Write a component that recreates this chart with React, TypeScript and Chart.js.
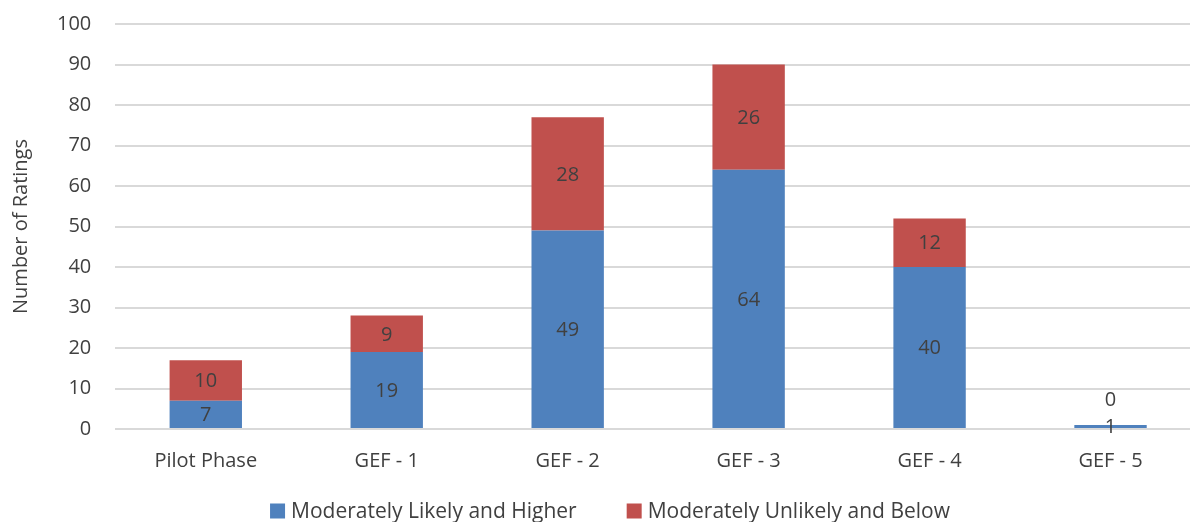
import React, { useEffect, useRef } from "react";
import { Chart, registerables } from "chart.js";

Chart.register(...registerables);

const categories = ["Pilot Phase", "GEF - 1", "GEF - 2", "GEF - 3", "GEF - 4", "GEF - 5"];
const likelyHigher = [7, 19, 49, 64, 40, 1];
const unlikelyBelow = [10, 9, 28, 26, 12, 0];
const seriesNames = ["Moderately Likely and Higher", "Moderately Unlikely and Below"];
const seriesColors = ["#4F81BD", "#C0504D"];
const yTicksMax = 100;
const yTicksStep = 10;

const FONT = "'Open Sans', 'Noto Sans', sans-serif";
const FS = 20;

const labelPlugin = {
  id: "segLabels",
  afterDatasetsDraw(chart: any) {
    const ctx = chart.ctx;
    ctx.save();
    ctx.font = `${FS}px ${FONT}`;
    ctx.fillStyle = "#404040";
    ctx.textAlign = "center";
    ctx.textBaseline = "middle";
    chart.data.datasets.forEach((ds: any, di: number) => {
      const meta = chart.getDatasetMeta(di);
      meta.data.forEach((el: any, i: number) => {
        const v = ds.data[i];
        let y = (el.y + el.base) / 2;
        if (v === 0) y = el.y - 26;
        ctx.fillText(String(v), el.x, y + 1);
      });
    });
    ctx.restore();
  },
};

const legendPlugin = {
  id: "bottomLegend",
  afterDraw(chart: any) {
    const ctx = chart.ctx;
    ctx.save();
    ctx.font = `21px ${FONT}`;
    ctx.textBaseline = "middle";
    ctx.textAlign = "left";
    const box = 15;
    const gapText = 6;
    const gapItems = 50;
    const names = chart.data.datasets.map((d: any) => d.label);
    const widths = names.map((n: string) => box + gapText + ctx.measureText(n).width);
    const total = widths.reduce((a: number, b: number) => a + b, 0) + gapItems * (names.length - 1);
    const cx = 610;
    const cy = 511;
    let x = cx - total / 2;
    names.forEach((n: string, i: number) => {
      ctx.fillStyle = chart.data.datasets[i].backgroundColor;
      ctx.fillRect(x, cy - box / 2, box, box);
      ctx.fillStyle = "#404040";
      ctx.fillText(n, x + box + gapText, cy + 1);
      x += widths[i] + gapItems;
    });
    ctx.restore();
  },
};

export default function App() {
  const ref = useRef<HTMLCanvasElement>(null);
  useEffect(() => {
    document.body.style.margin = "0";
    const chart = new Chart(ref.current!, {
      type: "bar",
      data: {
        labels: categories,
        datasets: [
          {
            label: seriesNames[0],
            data: likelyHigher,
            backgroundColor: seriesColors[0],
            barPercentage: 0.8,
            categoryPercentage: 0.5,
          },
          {
            label: seriesNames[1],
            data: unlikelyBelow,
            backgroundColor: seriesColors[1],
            barPercentage: 0.8,
            categoryPercentage: 0.5,
          },
        ],
      },
      options: {
        animation: false,
        responsive: false,
        maintainAspectRatio: false,
        layout: { padding: { top: 0, right: 0, left: 9, bottom: 37 } },
        plugins: {
          tooltip: { enabled: false },
          legend: { display: false },
        },
        scales: {
          x: {
            stacked: true,
            grid: { display: false },
            border: { display: false },
            ticks: { font: { family: FONT, size: FS }, color: "#404040", padding: 12 },
          },
          y: {
            stacked: true,
            min: 0,
            max: yTicksMax,
            ticks: {
              stepSize: yTicksStep,
              font: { family: FONT, size: FS },
              color: "#404040",
              padding: 12,
            },
            grid: {
              color: "#D9D9D9",
              lineWidth: 2,
              drawTicks: true,
              tickLength: 12,
              tickColor: "rgba(0,0,0,0)",
            },
            border: { display: false },
            title: {
              display: true,
              text: "Number of Ratings",
              font: { family: FONT, size: FS },
              color: "#404040",
              padding: { top: 0, bottom: 12 },
            },
          },
        },
      },
      plugins: [labelPlugin, legendPlugin],
    });
    return () => chart.destroy();
  }, []);
  return (
    <div style={{ width: 1190, height: 522, overflow: "hidden" }}>
      <canvas ref={ref} width={1201} height={522} style={{ display: "block" }} />
    </div>
  );
}
